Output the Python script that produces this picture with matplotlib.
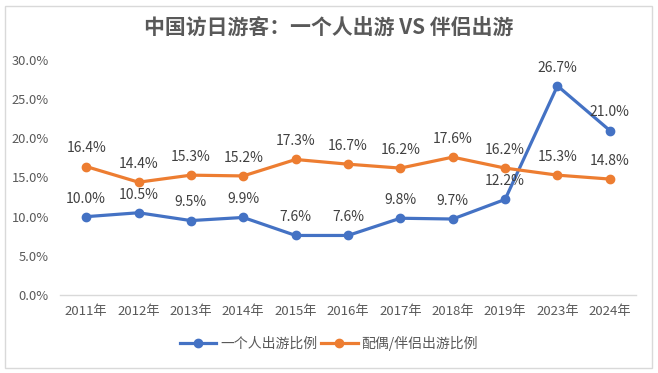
import matplotlib
matplotlib.use("Agg")
import matplotlib.pyplot as plt
from matplotlib.patches import Rectangle

plt.rcParams['font.family'] = ['Noto Sans CJK SC', 'DejaVu Sans']

years = ['2011年', '2012年', '2013年', '2014年', '2015年', '2016年',
         '2017年', '2018年', '2019年', '2023年', '2024年']
solo = [10.0, 10.5, 9.5, 9.9, 7.6, 7.6, 9.8, 9.7, 12.2, 26.7, 21.0]
couple = [16.4, 14.4, 15.3, 15.2, 17.3, 16.7, 16.2, 17.6, 16.2, 15.3, 14.8]
yticks = [0, 5, 10, 15, 20, 25, 30]

blue = '#4472C4'
orange = '#ED7D31'
grey = '#595959'

fig = plt.figure(figsize=(6.58, 3.73), dpi=100)
ax = fig.add_axes([60 / 658, 1 - 295 / 373, 576 / 658, 235 / 373])

x = list(range(len(years)))
ax.plot(x, solo, color=blue, lw=2.3, marker='o', ms=6, label='一个人出游比例')
ax.plot(x, couple, color=orange, lw=2.3, marker='o', ms=6, label='配偶/伴侣出游比例')

for i in x:
    ax.annotate(f'{solo[i]:.1f}%', (i, solo[i]), xytext=(0, 8), textcoords='offset points',
                ha='center', va='bottom', fontsize=10, color='#404040')
    ax.annotate(f'{couple[i]:.1f}%', (i, couple[i]), xytext=(0, 8), textcoords='offset points',
                ha='center', va='bottom', fontsize=10, color='#404040')

ax.set_xlim(-0.5, len(years) - 0.5)
ax.set_ylim(0, 30)
ax.set_yticks(yticks)
ax.set_yticklabels([f'{v:.1f}%' for v in yticks])
ax.set_xticks(x)
ax.set_xticklabels(years)
ax.tick_params(axis='x', length=0, labelsize=9.5, colors=grey, pad=7)
ax.tick_params(axis='y', length=0, labelsize=9.3, colors=grey, pad=8)
for s in ['top', 'right', 'left']:
    ax.spines[s].set_visible(False)
ax.spines['bottom'].set_color('#D9D9D9')
ax.spines['bottom'].set_linewidth(1)

fig.text(0.5, 1 - 28 / 373, '中国访日游客：一个人出游 VS 伴侣出游', ha='center', va='center',
         fontsize=15, fontweight='bold', color=grey)

leg = fig.legend(loc='center', bbox_to_anchor=(0.5, 1 - 343 / 373), ncol=2, frameon=False,
                 fontsize=10, handlelength=2.6, columnspacing=0.3, handletextpad=0.3)
for t in leg.get_texts():
    t.set_color(grey)

fig.patches.append(Rectangle((5 / 658, 5 / 373), 647 / 658, 362 / 373, transform=fig.transFigure,
                             fill=False, edgecolor='#D9D9D9', lw=1))

fig.savefig('out.png', dpi=100)
